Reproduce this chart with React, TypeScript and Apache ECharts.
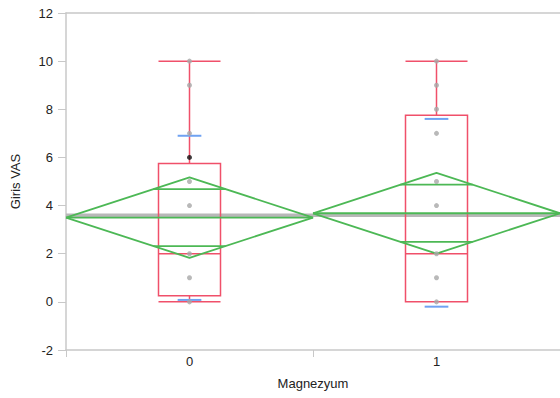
import React, { useEffect, useRef } from "react";
import * as echarts from "echarts";

const categories = ["0", "1"];
// [min, Q1, median, Q3, max]
const boxData = [
  [0, 0.25, 2, 5.75, 10],
  [0, 0, 2, 7.75, 10],
];
const groupMeans = [3.5, 3.68];
const ciHalf = [1.67, 1.68];
const grandMean = 3.6;
const sdUpper = [6.9, 7.6];
const sdLower = [0.08, -0.2];
const pointsGroup0 = [0, 1, 2, 4, 5, 7, 9, 10];
const highlightGroup0 = [6];
const pointsGroup1 = [0, 1, 2, 4, 5, 7, 8, 9, 10];
const yTicks = { min: -2, max: 12, interval: 2 };

const RED = "#f0506a";
const GREEN = "#4cb855";
const BLUE = "#6fa2f2";
const FONT = "Liberation Sans, Arial, Helvetica, sans-serif";

function lineSeries(data: number[][], color: string, width: number, z: number) {
  return {
    type: "line",
    xAxisIndex: 1,
    yAxisIndex: 0,
    data,
    symbol: "none",
    silent: true,
    z,
    lineStyle: { color, width },
  };
}

export default function App() {
  const ref = useRef<HTMLDivElement>(null);
  useEffect(() => {
    if (!ref.current) return;
    const chart = echarts.init(ref.current, undefined, { renderer: "svg" });
    const series: any[] = [];
    // grand mean
    series.push(lineSeries([[-0.5, grandMean], [1.5, grandMean]], "#b8b8b8", 3.5, 1));
    // box plots
    series.push({
      type: "boxplot",
      xAxisIndex: 0,
      yAxisIndex: 0,
      data: boxData,
      boxWidth: [62, 62],
      silent: true,
      z: 2,
      itemStyle: { color: "transparent", borderColor: RED, borderWidth: 1.5 },
    });
    // means diamonds
    groupMeans.forEach((m, i) => {
      const h = ciHalf[i];
      const c = i;
      const ov = h / Math.SQRT2;
      const ovHalf = 0.5 * (1 - ov / h);
      series.push(
        lineSeries(
          [
            [c - 0.5, m],
            [c, m + h],
            [c + 0.5, m],
            [c, m - h],
            [c - 0.5, m],
          ],
          GREEN,
          1.8,
          3
        )
      );
      series.push(lineSeries([[c - 0.5, m], [c + 0.5, m]], GREEN, 1.8, 3));
      series.push(lineSeries([[c - ovHalf, m + ov], [c + ovHalf, m + ov]], GREEN, 1.8, 3));
      series.push(lineSeries([[c - ovHalf, m - ov], [c + ovHalf, m - ov]], GREEN, 1.8, 3));
      // std dev lines
      series.push(lineSeries([[c - 0.048, sdUpper[i]], [c + 0.048, sdUpper[i]]], BLUE, 2, 4));
      series.push(lineSeries([[c - 0.048, sdLower[i]], [c + 0.048, sdLower[i]]], BLUE, 2, 4));
    });
    // points
    series.push({
      type: "scatter",
      xAxisIndex: 1,
      yAxisIndex: 0,
      data: [
        ...pointsGroup0.map((v) => [0, v]),
        ...pointsGroup1.map((v) => [1, v]),
      ],
      symbolSize: 5,
      silent: true,
      z: 5,
      itemStyle: { color: "#a8a8a8" },
    });
    series.push({
      type: "scatter",
      xAxisIndex: 1,
      yAxisIndex: 0,
      data: highlightGroup0.map((v) => [0, v]),
      symbolSize: 5,
      silent: true,
      z: 5,
      itemStyle: { color: "#111111" },
    });

    chart.setOption({
      animation: false,
      textStyle: { fontFamily: FONT },
      grid: { left: 66, right: -2, top: 13, bottom: 48, containLabel: false },
      xAxis: [
        {
          type: "category",
          data: categories,
          boundaryGap: true,
          position: "bottom",
          name: "Magnezyum",
          nameLocation: "middle",
          nameGap: 27,
          nameTextStyle: { color: "#222", fontSize: 13, fontFamily: FONT },
          axisLine: { show: true, onZero: false, lineStyle: { color: "#c8c8c8", width: 1.5 } },
          axisTick: { show: true, length: 7, lineStyle: { color: "#c8c8c8" } },
          axisLabel: { color: "#222", fontSize: 13, margin: 5, fontFamily: FONT },
          splitLine: { show: false },
        },
        {
          type: "value",
          min: -0.5,
          max: 1.5,
          position: "top",
          axisLine: { show: true, onZero: false, lineStyle: { color: "#c8c8c8", width: 1.5 } },
          axisTick: { show: false },
          axisLabel: { show: false },
          splitLine: { show: false },
        },
      ],
      yAxis: [
        {
          type: "value",
          min: yTicks.min,
          max: yTicks.max,
          interval: yTicks.interval,
          position: "left",
          name: "Giris VAS",
          nameLocation: "middle",
          nameGap: 44,
          nameTextStyle: { color: "#222", fontSize: 13, fontFamily: FONT },
          axisLine: { show: true, onZero: false, lineStyle: { color: "#c8c8c8", width: 1.5 } },
          axisTick: { show: true, length: 8, lineStyle: { color: "#c8c8c8" } },
          axisLabel: { color: "#222", fontSize: 13, margin: 13, fontFamily: FONT },
          splitLine: { show: false },
        },
      ],
      series,
    });
    return () => chart.dispose();
  }, []);
  return <div ref={ref} style={{ width: 560, height: 398, position: "absolute", left: 0, top: 0 }} />;
}
